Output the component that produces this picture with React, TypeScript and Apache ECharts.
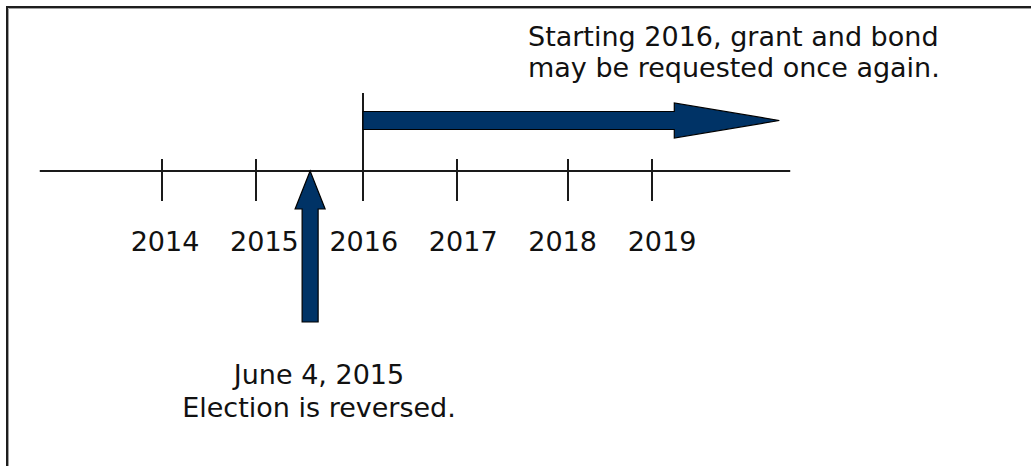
import React, { useEffect, useRef } from "react";
import * as echarts from "echarts";

// ---- data ----
const years = [2014, 2015, 2016, 2017, 2018, 2019];
const yearLabels = ["2014", "2015", "2016", "2017", "2018", "2019"];
// where the tick marks are drawn on the timeline (in year units)
const tickPositions = [2013.97, 2014.915, 2015.99, 2016.94, 2018.05, 2018.9];
const timelineRange = [2012.74, 2020.29];
const electionDate = 2015.46; // June 4, 2015
const electionText = ["June 4, 2015", "Election is reversed."];
const grantStart = 2015.99;
const grantEnd = 2020.18;
const grantText = ["Starting 2016, grant and bond", "may be requested once again."];

const FONT = 'Verdana, "DejaVu Sans", sans-serif';
const NAVY = "#003366";
const INK = "#1a1a1a";
const AXIS_Y = 171;

export default function App() {
  const ref = useRef<HTMLDivElement>(null);
  useEffect(() => {
    const chart = echarts.init(ref.current!, null, { renderer: "svg" });
    const option: any = {
      animation: false,
      backgroundColor: "#ffffff",
      grid: { left: 165, right: 1031 - 662, top: 0, bottom: 0 },
      xAxis: { type: "value", min: 2014, max: 2019, show: false },
      yAxis: { type: "value", min: 0, max: 1, show: false },
      series: [
        {
          type: "custom",
          name: "timeline",
          data: [[timelineRange[0], timelineRange[1]]],
          renderItem: (params: any, api: any) => {
            const x0 = api.coord([api.value(0), 0])[0];
            const x1 = api.coord([api.value(1), 0])[0];
            return {
              type: "line",
              shape: { x1: x0, y1: AXIS_Y, x2: x1, y2: AXIS_Y },
              style: { stroke: INK, lineWidth: 2 },
            };
          },
        },
        {
          type: "custom",
          name: "ticks",
          data: tickPositions.map((t) => [t, 0]),
          renderItem: (params: any, api: any) => {
            const x = Math.round(api.coord([api.value(0), 0])[0]);
            return {
              type: "line",
              shape: { x1: x, y1: AXIS_Y - 12, x2: x, y2: AXIS_Y + 30 },
              style: { stroke: INK, lineWidth: 2 },
            };
          },
        },
        {
          type: "custom",
          name: "labels",
          data: years.map((y, i) => [y, 0, i]),
          renderItem: (params: any, api: any) => {
            const x = api.coord([api.value(0), 0])[0];
            return {
              type: "text",
              x,
              y: 241,
              style: {
                text: yearLabels[api.value(2)],
                font: `27px ${FONT}`,
                fill: "#111",
                align: "center",
                verticalAlign: "middle",
              },
            };
          },
        },
        {
          type: "custom",
          name: "grant",
          data: [[grantStart, grantEnd]],
          renderItem: (params: any, api: any) => {
            const x0 = Math.round(api.coord([api.value(0), 0])[0]);
            const tip = api.coord([api.value(1), 0])[0];
            const hb = tip - 105;
            const cy = 120.5;
            return {
              type: "group",
              children: [
                {
                  type: "line",
                  shape: { x1: x0, y1: 93, x2: x0, y2: AXIS_Y },
                  style: { stroke: INK, lineWidth: 2 },
                },
                {
                  type: "polygon",
                  shape: {
                    points: [
                      [x0, cy - 9],
                      [hb, cy - 9],
                      [hb, cy - 17.5],
                      [tip, cy],
                      [hb, cy + 17.5],
                      [hb, cy + 9],
                      [x0, cy + 9],
                    ],
                  },
                  style: { fill: NAVY, stroke: "#000", lineWidth: 1.2 },
                },
              ],
            };
          },
        },
        {
          type: "custom",
          name: "election",
          data: [[electionDate, 0]],
          renderItem: (params: any, api: any) => {
            const x = api.coord([api.value(0), 0])[0];
            return {
              type: "polygon",
              shape: {
                points: [
                  [x, AXIS_Y],
                  [x + 15, 209],
                  [x + 8, 209],
                  [x + 8, 322],
                  [x - 8, 322],
                  [x - 8, 209],
                  [x - 15, 209],
                ],
              },
              style: { fill: NAVY, stroke: "#000", lineWidth: 1.2 },
            };
          },
        },
      ],
      graphic: [
        {
          type: "rect",
          shape: { x: 7, y: 7, width: 1200, height: 800 },
          style: { fill: "none", stroke: "#1e1e1e", lineWidth: 2 },
          silent: true,
        },
        {
          type: "polyline",
          shape: { points: [[8.5, 1000], [8.5, 8.5], [1100, 8.5]] },
          style: { stroke: "#a0a0a0", lineWidth: 1, fill: "none" },
          silent: true,
        },
        {
          type: "text",
          x: 528,
          y: 21,
          style: {
            text: grantText.join("\n"),
            font: `27px ${FONT}`,
            lineHeight: 31,
            fill: "#111",
            align: "left",
            verticalAlign: "top",
          },
        },
        {
          type: "text",
          x: 319,
          y: 358,
          style: {
            text: electionText.join("\n"),
            font: `27px ${FONT}`,
            lineHeight: 33,
            fill: "#111",
            align: "center",
            verticalAlign: "top",
          },
        },
      ],
    };
    chart.setOption(option);
    return () => chart.dispose();
  }, []);
  return (
    <div
      ref={ref}
      style={{ position: "absolute", left: 0, top: 0, width: 1031, height: 466 }}
    />
  );
}
